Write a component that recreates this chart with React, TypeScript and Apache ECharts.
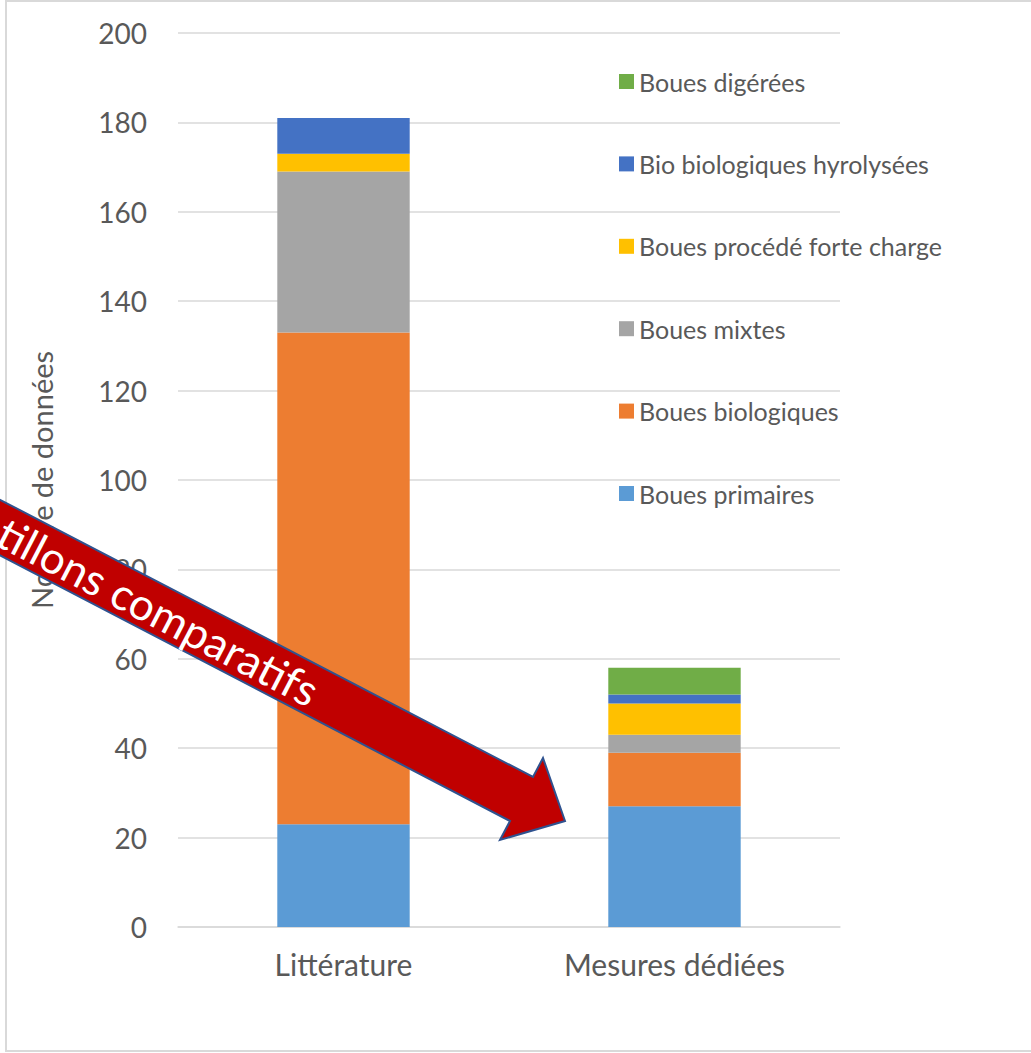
import React, { useEffect, useRef } from "react";
import * as echarts from "echarts";

const categories = ["Littérature", "Mesures dédiées"];
const seriesNames = [
  "Boues primaires",
  "Boues biologiques",
  "Boues mixtes",
  "Boues procédé forte charge",
  "Bio biologiques hyrolysées",
  "Boues digérées",
];
const primaires = [23, 27];
const biologiques = [110, 12];
const mixtes = [36, 4];
const forteCharge = [4, 7];
const hydrolysees = [8, 2];
const digerees = [0, 6];
const seriesValues = [primaires, biologiques, mixtes, forteCharge, hydrolysees, digerees];
const colors = ["#5B9BD5", "#ED7D31", "#A5A5A5", "#FFC000", "#4472C4", "#70AD47"];
const yTicks = { min: 0, max: 200, interval: 20 };
const yTitle = "Nombre de données";
const arrowText = "Échantillons comparatifs";

const FONT = "Lato, 'Open Sans', sans-serif";
const TXT = "#595959";

export default function App() {
  const ref = useRef<HTMLDivElement>(null);
  useEffect(() => {
    if (!ref.current) return;
    const chart = echarts.init(ref.current, undefined, { renderer: "svg" });
    const ang = (27.5 * Math.PI) / 180;
    chart.setOption({
      animation: false,
      backgroundColor: "#ffffff",
      textStyle: { fontFamily: FONT },
      grid: { left: 178, right: 191, top: 33, bottom: 126 },
      legend: {
        orient: "vertical",
        left: 614,
        top: 64,
        itemWidth: 15,
        itemHeight: 15,
        itemGap: 57.4,
        icon: "rect",
        data: [...seriesNames].reverse(),
        textStyle: { fontFamily: FONT, fontSize: 25, color: TXT, lineHeight: 25 },
      },
      xAxis: {
        type: "category",
        data: categories,
        axisLine: { show: true, lineStyle: { color: "#D9D9D9", width: 1.5 } },
        axisTick: { show: false },
        axisLabel: { fontFamily: FONT, fontSize: 30, color: TXT, margin: 22 },
      },
      yAxis: {
        type: "value",
        min: yTicks.min,
        max: yTicks.max,
        interval: yTicks.interval,
        name: yTitle,
        nameLocation: "middle",
        nameGap: 122,
        nameTextStyle: { fontFamily: FONT, fontSize: 29, color: TXT },
        axisLine: { show: false },
        axisTick: { show: false },
        splitLine: { lineStyle: { color: "#D9D9D9", width: 1.5 } },
        axisLabel: { fontFamily: FONT, fontSize: 28, color: TXT, margin: 31 },
      },
      series: seriesNames.map((name, i) => ({
        name,
        type: "bar",
        stack: "total",
        barWidth: "40%",
        data: seriesValues[i],
        itemStyle: { color: colors[i] },
      })),
      graphic: [
        {
          type: "rect",
          z: 0,
          silent: true,
          shape: { x: 6, y: 1, width: 1060, height: 1050 },
          style: { fill: "none", stroke: "#D9D9D9", lineWidth: 2 },
        },
        {
          type: "polygon",
          z: 100,
          silent: true,
          shape: {
            points: [
              [-88, 454],
              [533, 777],
              [543, 758],
              [565, 821],
              [500, 840],
              [510, 821],
              [-110, 498],
            ],
          },
          style: { fill: "#C00000", stroke: "#2F528F", lineWidth: 2 },
        },
        {
          type: "text",
          z: 101,
          silent: true,
          x: 316,
          y: 693,
          rotation: -ang,
          style: {
            text: arrowText,
            fill: "#ffffff",
            fontFamily: FONT,
            fontSize: 44,
            align: "right",
            verticalAlign: "middle",
          },
        },
      ],
    });
    return () => chart.dispose();
  }, []);
  return (
    <div
      ref={ref}
      style={{ position: "absolute", left: 0, top: 0, width: 1031, height: 1053, overflow: "hidden" }}
    />
  );
}
